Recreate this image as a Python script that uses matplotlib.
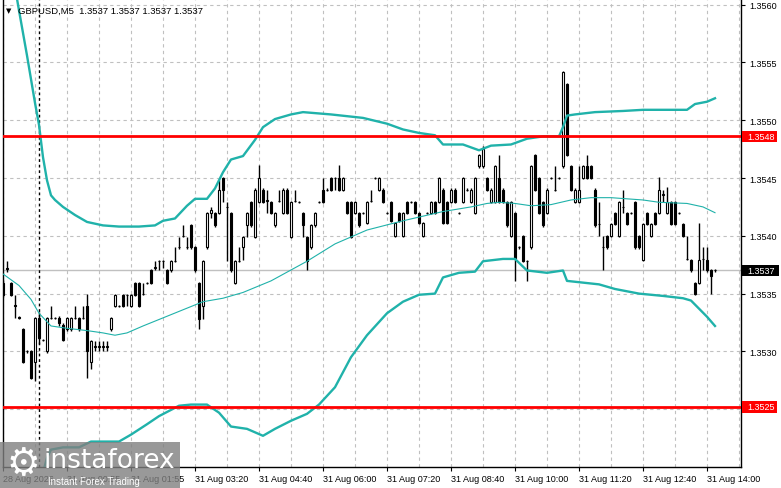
import matplotlib
matplotlib.use('Agg')
import matplotlib.pyplot as plt
from matplotlib.ticker import FixedLocator, FuncFormatter
from matplotlib.patches import Rectangle
import matplotlib.transforms as mtransforms

# GBPUSD M5 candles (one entry per bar)
opens = [
    1.35359, 1.35372, 1.35359, 1.35340, 1.35330, 1.35319, 1.35300, 1.35300, 1.35291, 1.35329,
    1.35310, 1.35300, 1.35329, 1.35329, 1.35329, 1.35323, 1.35319, 1.35319, 1.35329, 1.35329,
    1.35329, 1.35339, 1.35291, 1.35304, 1.35304, 1.35304, 1.35304, 1.35319, 1.35339, 1.35339,
    1.35349, 1.35349, 1.35339, 1.35359, 1.35359, 1.35350, 1.35359, 1.35370, 1.35372, 1.35378,
    1.35378, 1.35370, 1.35370, 1.35378, 1.35390, 1.35400, 1.35390, 1.35409, 1.35390, 1.35359,
    1.35339, 1.35390, 1.35420, 1.35420, 1.35420, 1.35450, 1.35425, 1.35420, 1.35359, 1.35378,
    1.35390, 1.35409, 1.35429, 1.35399, 1.35429, 1.35440, 1.35430, 1.35429, 1.35409, 1.35430,
    1.35420, 1.35440, 1.35399, 1.35430, 1.35429, 1.35420, 1.35399, 1.35390, 1.35409, 1.35429,
    1.35440, 1.35440, 1.35450, 1.35450, 1.35450, 1.35440, 1.35429, 1.35429, 1.35420, 1.35420,
    1.35420, 1.35411, 1.35430, 1.35450, 1.35440, 1.35440, 1.35420, 1.35429, 1.35400, 1.35420,
    1.35400, 1.35429, 1.35429, 1.35429, 1.35420, 1.35400, 1.35420, 1.35420, 1.35429, 1.35429,
    1.35440, 1.35429, 1.35429, 1.35440, 1.35420, 1.35429, 1.35440, 1.35429, 1.35420, 1.35460,
    1.35460, 1.35450, 1.35429, 1.35429, 1.35450, 1.35440, 1.35429, 1.35400, 1.35420, 1.35390,
    1.35400, 1.35378, 1.35390, 1.35470, 1.35450, 1.35429, 1.35420, 1.35450, 1.35440, 1.35450,
    1.35460, 1.35531, 1.35460, 1.35429, 1.35429, 1.35450, 1.35460, 1.35460, 1.35440, 1.35410,
    1.35390, 1.35400, 1.35400, 1.35420, 1.35400, 1.35425, 1.35420, 1.35420, 1.35429, 1.35400,
    1.35379, 1.35420, 1.35400, 1.35420, 1.35420, 1.35435, 1.35420, 1.35429, 1.35429, 1.35420,
    1.35410, 1.35380, 1.35379, 1.35359, 1.35359, 1.35380, 1.35379, 1.35370, 1.35370,
]
highs = [
    1.35362, 1.35378, 1.35360, 1.35349, 1.35331, 1.35320, 1.35301, 1.35301, 1.35330, 1.35334,
    1.35311, 1.35330, 1.35339, 1.35330, 1.35331, 1.35325, 1.35330, 1.35330, 1.35339, 1.35330,
    1.35339, 1.35350, 1.35310, 1.35309, 1.35309, 1.35309, 1.35309, 1.35330, 1.35350, 1.35340,
    1.35350, 1.35350, 1.35350, 1.35360, 1.35360, 1.35359, 1.35360, 1.35371, 1.35378, 1.35379,
    1.35379, 1.35371, 1.35379, 1.35390, 1.35399, 1.35409, 1.35399, 1.35410, 1.35391, 1.35360,
    1.35379, 1.35421, 1.35425, 1.35421, 1.35448, 1.35451, 1.35429, 1.35421, 1.35379, 1.35390,
    1.35400, 1.35421, 1.35430, 1.35441, 1.35461, 1.35441, 1.35440, 1.35430, 1.35421, 1.35440,
    1.35441, 1.35441, 1.35430, 1.35440, 1.35430, 1.35421, 1.35400, 1.35410, 1.35421, 1.35430,
    1.35450, 1.35441, 1.35451, 1.35451, 1.35461, 1.35451, 1.35430, 1.35430, 1.35430, 1.35421,
    1.35421, 1.35430, 1.35440, 1.35451, 1.35451, 1.35441, 1.35421, 1.35430, 1.35412, 1.35421,
    1.35421, 1.35430, 1.35430, 1.35430, 1.35421, 1.35412, 1.35421, 1.35430, 1.35430, 1.35451,
    1.35441, 1.35430, 1.35441, 1.35441, 1.35421, 1.35451, 1.35441, 1.35441, 1.35451, 1.35471,
    1.35478, 1.35451, 1.35441, 1.35461, 1.35470, 1.35441, 1.35430, 1.35430, 1.35421, 1.35391,
    1.35401, 1.35379, 1.35461, 1.35471, 1.35451, 1.35430, 1.35441, 1.35451, 1.35460, 1.35451,
    1.35543, 1.35532, 1.35461, 1.35441, 1.35460, 1.35461, 1.35470, 1.35461, 1.35441, 1.35429,
    1.35400, 1.35401, 1.35411, 1.35421, 1.35430, 1.35440, 1.35421, 1.35421, 1.35430, 1.35401,
    1.35411, 1.35421, 1.35411, 1.35421, 1.35451, 1.35440, 1.35442, 1.35430, 1.35430, 1.35421,
    1.35411, 1.35400, 1.35380, 1.35360, 1.35411, 1.35390, 1.35390, 1.35371, 1.35371,
]
lows = [
    1.35347, 1.35369, 1.35348, 1.35329, 1.35328, 1.35290, 1.35299, 1.35276, 1.35274, 1.35306,
    1.35309, 1.35299, 1.35328, 1.35328, 1.35322, 1.35309, 1.35318, 1.35318, 1.35328, 1.35318,
    1.35328, 1.35277, 1.35285, 1.35300, 1.35300, 1.35300, 1.35300, 1.35318, 1.35338, 1.35338,
    1.35338, 1.35339, 1.35338, 1.35348, 1.35338, 1.35349, 1.35358, 1.35358, 1.35370, 1.35370,
    1.35372, 1.35358, 1.35369, 1.35377, 1.35389, 1.35399, 1.35389, 1.35389, 1.35369, 1.35319,
    1.35328, 1.35389, 1.35415, 1.35408, 1.35419, 1.35429, 1.35378, 1.35369, 1.35358, 1.35377,
    1.35379, 1.35399, 1.35408, 1.35398, 1.35428, 1.35428, 1.35420, 1.35419, 1.35408, 1.35429,
    1.35419, 1.35419, 1.35398, 1.35429, 1.35428, 1.35399, 1.35370, 1.35389, 1.35408, 1.35428,
    1.35428, 1.35439, 1.35439, 1.35440, 1.35439, 1.35439, 1.35419, 1.35398, 1.35419, 1.35408,
    1.35419, 1.35410, 1.35429, 1.35449, 1.35439, 1.35428, 1.35419, 1.35412, 1.35399, 1.35412,
    1.35399, 1.35419, 1.35428, 1.35419, 1.35410, 1.35399, 1.35419, 1.35419, 1.35419, 1.35428,
    1.35410, 1.35410, 1.35428, 1.35428, 1.35419, 1.35428, 1.35439, 1.35428, 1.35419, 1.35459,
    1.35459, 1.35439, 1.35428, 1.35428, 1.35428, 1.35428, 1.35408, 1.35399, 1.35361, 1.35389,
    1.35377, 1.35361, 1.35389, 1.35439, 1.35419, 1.35408, 1.35419, 1.35449, 1.35439, 1.35449,
    1.35459, 1.35469, 1.35439, 1.35428, 1.35428, 1.35449, 1.35449, 1.35449, 1.35408, 1.35400,
    1.35370, 1.35389, 1.35399, 1.35409, 1.35399, 1.35420, 1.35409, 1.35419, 1.35389, 1.35389,
    1.35378, 1.35409, 1.35399, 1.35409, 1.35419, 1.35429, 1.35419, 1.35409, 1.35409, 1.35419,
    1.35399, 1.35379, 1.35369, 1.35349, 1.35358, 1.35370, 1.35369, 1.35350, 1.35369,
]
closes = [
    1.35349, 1.35371, 1.35349, 1.35339, 1.35329, 1.35291, 1.35300, 1.35277, 1.35329, 1.35312,
    1.35310, 1.35329, 1.35329, 1.35329, 1.35325, 1.35310, 1.35329, 1.35329, 1.35329, 1.35319,
    1.35329, 1.35300, 1.35309, 1.35305, 1.35305, 1.35305, 1.35305, 1.35329, 1.35349, 1.35339,
    1.35339, 1.35349, 1.35349, 1.35349, 1.35339, 1.35350, 1.35359, 1.35359, 1.35373, 1.35378,
    1.35378, 1.35359, 1.35378, 1.35378, 1.35390, 1.35400, 1.35390, 1.35390, 1.35370, 1.35328,
    1.35378, 1.35420, 1.35422, 1.35409, 1.35440, 1.35440, 1.35425, 1.35370, 1.35378, 1.35378,
    1.35399, 1.35420, 1.35409, 1.35440, 1.35450, 1.35429, 1.35431, 1.35420, 1.35420, 1.35430,
    1.35440, 1.35420, 1.35429, 1.35430, 1.35429, 1.35409, 1.35378, 1.35409, 1.35420, 1.35429,
    1.35429, 1.35440, 1.35440, 1.35450, 1.35440, 1.35450, 1.35420, 1.35399, 1.35429, 1.35409,
    1.35420, 1.35429, 1.35430, 1.35450, 1.35450, 1.35429, 1.35420, 1.35413, 1.35411, 1.35413,
    1.35420, 1.35420, 1.35429, 1.35420, 1.35411, 1.35411, 1.35420, 1.35429, 1.35420, 1.35450,
    1.35411, 1.35411, 1.35440, 1.35429, 1.35420, 1.35450, 1.35440, 1.35440, 1.35450, 1.35470,
    1.35475, 1.35440, 1.35440, 1.35460, 1.35429, 1.35429, 1.35409, 1.35429, 1.35381, 1.35390,
    1.35378, 1.35378, 1.35460, 1.35440, 1.35420, 1.35409, 1.35440, 1.35450, 1.35440, 1.35450,
    1.35542, 1.35470, 1.35440, 1.35440, 1.35440, 1.35460, 1.35450, 1.35450, 1.35409, 1.35410,
    1.35390, 1.35390, 1.35410, 1.35410, 1.35429, 1.35425, 1.35410, 1.35420, 1.35390, 1.35390,
    1.35410, 1.35410, 1.35410, 1.35410, 1.35440, 1.35436, 1.35429, 1.35410, 1.35410, 1.35420,
    1.35400, 1.35380, 1.35370, 1.35350, 1.35379, 1.35380, 1.35370, 1.35365, 1.35370,
]

# Bollinger bands at selected bars
upper_idx = [0, 2, 4, 6, 8, 9, 10, 11, 12, 13, 15, 18, 21, 25, 29, 34, 38, 40, 43, 46,
             48, 51, 53, 55, 57, 60, 63, 65, 68, 72, 75, 82, 90, 96, 100, 104, 108, 110, 115, 119,
             122, 127, 131, 135, 139, 140, 141, 143, 148, 155, 160, 167, 171, 173, 176, 178]
upper = [1.35675, 1.35635, 1.35595, 1.35556, 1.35515, 1.35496, 1.35468, 1.35448, 1.35435, 1.35431,
         1.35425, 1.35418, 1.35412, 1.35409, 1.35408, 1.35408, 1.35409, 1.35413, 1.35415, 1.35426,
         1.35432, 1.35432, 1.35441, 1.35455, 1.35466, 1.35469, 1.35483, 1.35494, 1.35501, 1.35505,
         1.35507, 1.35505, 1.35502, 1.35497, 1.35492, 1.35489, 1.35487, 1.35479, 1.35479, 1.35474,
         1.35478, 1.35479, 1.35484, 1.35486, 1.35486, 1.35494, 1.35504, 1.35505, 1.35507, 1.35508,
         1.35509, 1.35509, 1.35509, 1.35514, 1.35516, 1.35519]
mid_idx = [0, 4, 7, 9, 12, 16, 21, 25, 28, 31, 35, 40, 45, 50, 55, 60, 67, 76, 83, 87,
           91, 100, 110, 117, 121, 124, 128, 132, 137, 142, 147, 152, 160, 164, 171, 175, 178]
middle = [1.35367, 1.35357, 1.35345, 1.35333, 1.35322, 1.35320, 1.35318, 1.35316, 1.35314, 1.35316,
          1.35322, 1.35329, 1.35336, 1.35343, 1.35346, 1.35351, 1.35361, 1.35378, 1.35393, 1.35399,
          1.35405, 1.35413, 1.35421, 1.35425, 1.35428, 1.35429, 1.35428, 1.35426, 1.35427, 1.35431,
          1.35433, 1.35433, 1.35431, 1.35429, 1.35428, 1.35425, 1.35420]
lower_idx = [0, 5, 9, 10, 11, 12, 15, 19, 22, 29, 32, 36, 39, 44, 47, 51, 54, 57, 61, 65,
             68, 72, 76, 79, 83, 87, 91, 96, 100, 104, 108, 110, 114, 118, 120, 125, 128, 131, 136, 140,
             141, 149, 153, 159, 165, 170, 172, 174, 176, 178]
lower = [1.35059, 1.35131, 1.35170, 1.35195, 1.35208, 1.35215, 1.35217, 1.35217, 1.35222, 1.35222,
         1.35228, 1.35237, 1.35244, 1.35253, 1.35254, 1.35254, 1.35247, 1.35235, 1.35233, 1.35227,
         1.35233, 1.35240, 1.35246, 1.35254, 1.35269, 1.35295, 1.35314, 1.35333, 1.35343, 1.35349,
         1.35350, 1.35364, 1.35368, 1.35369, 1.35378, 1.35380, 1.35380, 1.35370, 1.35368, 1.35370,
         1.35361, 1.35358, 1.35354, 1.35350, 1.35348, 1.35346, 1.35344, 1.35337, 1.35330, 1.35322]

# horizontal levels
levels = [1.35486, 1.35252]
level_labels = ['1.3548', '1.3525']
last_price_label = '1.3537'

price_ticks = [1.3525, 1.3530, 1.3535, 1.3540, 1.3545, 1.3550, 1.3555, 1.3560]
time_idx = [0, 16, 32, 48, 64, 80, 96, 112, 128, 144, 160, 176]
time_labels = ['28 Aug 2026', '31 Aug 00:55', '31 Aug 01:55', '31 Aug 03:20', '31 Aug 04:40',
               '31 Aug 06:00', '31 Aug 07:20', '31 Aug 08:40', '31 Aug 10:00', '31 Aug 11:20',
               '31 Aug 12:40', '31 Aug 14:00']
day_sep = 9

plt.rcParams['font.family'] = ['Liberation Sans', 'DejaVu Sans']
plt.rcParams['font.size'] = 6.5

W, H = 781, 489
fig = plt.figure(figsize=(W / 100, H / 100), dpi=100)
ax = fig.add_axes([2.5 / W, (H - 468) / H, 738 / W, 467 / H])
ax.set_xlim(-0.125, 184.375)
ax.set_ylim(1.35200, 1.35604)

teal = '#20B2AA'
grid_c = '#C0C0C0'


def price_fmt(v, pos):
    # the level box already shows this price
    s = '%.4f' % v
    return '' if s in level_labels else s


# grid
ax.xaxis.set_major_locator(FixedLocator(time_idx))
ax.xaxis.set_minor_locator(FixedLocator(list(range(8, 185, 8))))
ax.set_xticklabels(time_labels)
for lbl in ax.get_xticklabels():
    lbl.set_horizontalalignment('left')
ax.yaxis.set_major_locator(FixedLocator(price_ticks))
ax.yaxis.set_major_formatter(FuncFormatter(price_fmt))
ax.yaxis.tick_right()
ax.grid(True, which='both', color=grid_c, linestyle=(0, (3, 3)), linewidth=0.8)
ax.set_axisbelow(True)
ax.tick_params(axis='x', which='major', direction='out', length=3, pad=2, labelsize=6.5)
ax.tick_params(axis='x', which='minor', length=0)
ax.tick_params(axis='y', direction='out', length=3, pad=3, labelsize=6.5)
ax.spines['top'].set_visible(False)
for s in ['left', 'right', 'bottom']:
    ax.spines[s].set_linewidth(1.0)

# current price line
ax.axhline(closes[-1], color=grid_c, lw=1, zorder=1)

# candles
for i in range(len(closes)):
    o, h, l, c = opens[i], highs[i], lows[i], closes[i]
    ax.vlines(i, l, h, color='black', lw=1, zorder=2)
    bull = c >= o
    ax.bar(i, abs(c - o), bottom=min(o, c), width=0.6,
           color='white' if bull else 'black', edgecolor='black', linewidth=0.8, zorder=3)

# day separator
ax.axvline(day_sep, color='black', lw=1, linestyle=(0, (2, 2)), zorder=4)

# bollinger bands
ax.plot(upper_idx, upper, color=teal, lw=1.7, zorder=5)
ax.plot(lower_idx, lower, color=teal, lw=1.7, zorder=5)
ax.plot(mid_idx, middle, color=teal, lw=0.8, zorder=5)

# support / resistance
trans = mtransforms.blended_transform_factory(ax.transAxes, ax.transData)
box_h = 0.0001
for lev, txt in zip(levels, level_labels):
    ax.axhline(lev, color='#FF0000', lw=2, zorder=6)
    ax.add_patch(Rectangle((1.0015, lev - box_h / 2), 0.048, box_h, transform=trans,
                           facecolor='#FF0000', edgecolor='none', clip_on=False, zorder=7))
    ax.text(1.0088, lev, txt, transform=trans, color='white', va='center', ha='left',
            fontsize=6.5, zorder=8, clip_on=False)

ax.add_patch(Rectangle((1.0015, closes[-1] - box_h / 2), 0.05, box_h, transform=trans,
                       facecolor='black', edgecolor='none', clip_on=False, zorder=7))
ax.text(1.0088, closes[-1], last_price_label, transform=trans, color='white', va='center',
        ha='left', fontsize=6.5, zorder=8, clip_on=False)

# header
fig.text(6 / W, 1 - 11 / H, '\u25BC', fontsize=5, va='center', ha='left', family='DejaVu Sans')
fig.text(18 / W, 1 - 11 / H, 'GBPUSD,M5  1.3537 1.3537 1.3537 1.3537', fontsize=6.8,
         va='center', ha='left')

# watermark
fig.patches.append(Rectangle((0, 0), 180 / W, 46 / H, transform=fig.transFigure,
                             facecolor='#808080', alpha=0.8, edgecolor='none', zorder=10))
fig.text(23 / W, 1 - 465 / H, '\u2699', fontsize=27, color='white', va='center', ha='center',
         family='DejaVu Sans', zorder=11)
fig.text(43 / W, 1 - 461 / H, 'instaforex', fontsize=19, color='white', va='center', ha='left',
         family='DejaVu Sans', zorder=11)
fig.text(48 / W, 1 - 482 / H, 'Instant Forex Trading', fontsize=7, color='white', va='center',
         ha='left', zorder=11)

fig.savefig('out.png', dpi=100)
